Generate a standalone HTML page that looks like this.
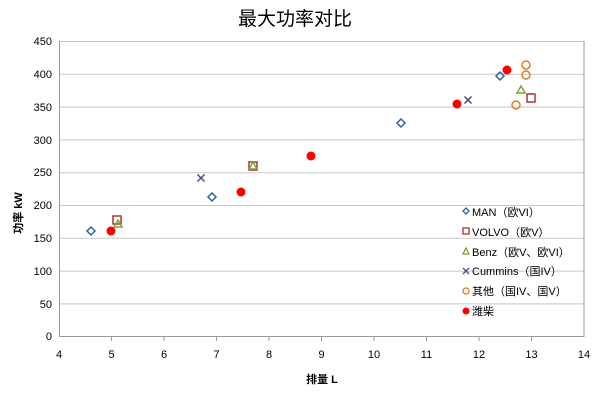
<!DOCTYPE html><html><head><meta charset="utf-8"><style>body{margin:0;background:#fff}svg{display:block;font-family:"Liberation Sans","Noto Sans CJK SC",sans-serif}</style></head><body>
<svg width="600" height="400" xmlns="http://www.w3.org/2000/svg">
<rect width="600" height="400" fill="#fff"/>
<text x="295" y="25" font-size="19" text-anchor="middle" fill="#000">最大功率对比</text>
<g stroke="#c8c8c8" stroke-width="1">
<line x1="59" y1="41.5" x2="584" y2="41.5"/><line x1="59" y1="74.3" x2="584" y2="74.3"/><line x1="59" y1="107.1" x2="584" y2="107.1"/><line x1="59" y1="139.9" x2="584" y2="139.9"/><line x1="59" y1="172.7" x2="584" y2="172.7"/><line x1="59" y1="205.5" x2="584" y2="205.5"/><line x1="59" y1="238.3" x2="584" y2="238.3"/><line x1="59" y1="271.1" x2="584" y2="271.1"/><line x1="59" y1="303.9" x2="584" y2="303.9"/>
</g>
<g stroke="#999" stroke-width="1"><line x1="59.5" y1="41" x2="59.5" y2="337"/><line x1="59" y1="336.5" x2="584" y2="336.5"/><line x1="584" y1="41" x2="584" y2="337"/>
<line x1="111.5" y1="336" x2="111.5" y2="341"/><line x1="164" y1="336" x2="164" y2="341"/><line x1="216.5" y1="336" x2="216.5" y2="341"/><line x1="269" y1="336" x2="269" y2="341"/><line x1="321.5" y1="336" x2="321.5" y2="341"/><line x1="374" y1="336" x2="374" y2="341"/><line x1="426.5" y1="336" x2="426.5" y2="341"/><line x1="479" y1="336" x2="479" y2="341"/><line x1="531.5" y1="336" x2="531.5" y2="341"/></g>
<g font-size="11" fill="#000" text-anchor="end">
<text x="52" y="45">450</text><text x="52" y="78">400</text><text x="52" y="111">350</text><text x="52" y="144">300</text><text x="52" y="176">250</text><text x="52" y="209">200</text><text x="52" y="242">150</text><text x="52" y="275">100</text><text x="52" y="308">50</text><text x="52" y="340">0</text></g>
<g font-size="11" fill="#000" text-anchor="middle">
<text x="59" y="358">4</text><text x="111.5" y="358">5</text><text x="164" y="358">6</text><text x="216.5" y="358">7</text><text x="269" y="358">8</text><text x="321.5" y="358">9</text><text x="374" y="358">10</text><text x="426.5" y="358">11</text><text x="479" y="358">12</text><text x="531.5" y="358">13</text><text x="584" y="358">14</text></g>
<text x="322" y="383" font-size="11" font-weight="bold" text-anchor="middle">排量 L</text>
<text transform="translate(22,213) rotate(-90)" font-size="11" font-weight="bold" text-anchor="middle">功率 kW</text>
<g fill="none" stroke="#2e5fa8" stroke-width="1.5">
<path d="M91 227l4 4-4 4-4-4z"/><path d="M212 193l4 4-4 4-4-4z"/><path d="M401 119l4 4-4 4-4-4z"/><path d="M500 72l4 4-4 4-4-4z"/></g>
<g fill="none" stroke="#b03030" stroke-width="1.5">
<rect x="113" y="216" width="8" height="8"/><rect x="249" y="162" width="8" height="8"/><rect x="527" y="94" width="8" height="8"/></g>
<g fill="none" stroke="#7da33c" stroke-width="1.5">
<path d="M118 220l4 7h-8z"/><path d="M253 162l4 7h-8z"/><path d="M521 86l4 7h-8z"/></g>
<g stroke="#5b3d8c" stroke-width="1.5">
<path d="M197.5 174.5l7 7M204.5 174.5l-7 7"/><path d="M464.5 96.5l7 7M471.5 96.5l-7 7"/></g>
<g fill="none" stroke="#e07b2a" stroke-width="1.5">
<circle cx="526" cy="65" r="4"/><circle cx="526" cy="75" r="4"/><circle cx="516" cy="105" r="4"/></g>
<g fill="#f00">
<circle cx="111" cy="231" r="4.5"/><circle cx="241" cy="192" r="4.5"/><circle cx="311" cy="156" r="4.5"/><circle cx="457" cy="104" r="4.5"/><circle cx="507" cy="70" r="4.5"/></g>
<g font-size="11" fill="#000">
<path d="M466 208l3 3-3 3-3-3z" fill="none" stroke="#2e5fa8" stroke-width="1.3"/><text x="472" y="216">MAN（欧VI）</text>
<rect x="463" y="228" width="6" height="6" fill="none" stroke="#b03030" stroke-width="1.3"/><text x="472" y="236">VOLVO（欧V）</text>
<path d="M466 248l3 6h-6z" fill="none" stroke="#7da33c" stroke-width="1.3"/><text x="472" y="256">Benz（欧V、欧VI）</text>
<path d="M463 268l6 6M469 268l-6 6" stroke="#5b3d8c" stroke-width="1.3"/><text x="472" y="275">Cummins（国IV）</text>
<circle cx="466" cy="291" r="3" fill="none" stroke="#e07b2a" stroke-width="1.3"/><text x="472" y="295">其他（国IV、国V）</text>
<circle cx="466" cy="311" r="3.5" fill="#f00"/><text x="472" y="315">潍柴</text>
</g>
</svg></body></html>
